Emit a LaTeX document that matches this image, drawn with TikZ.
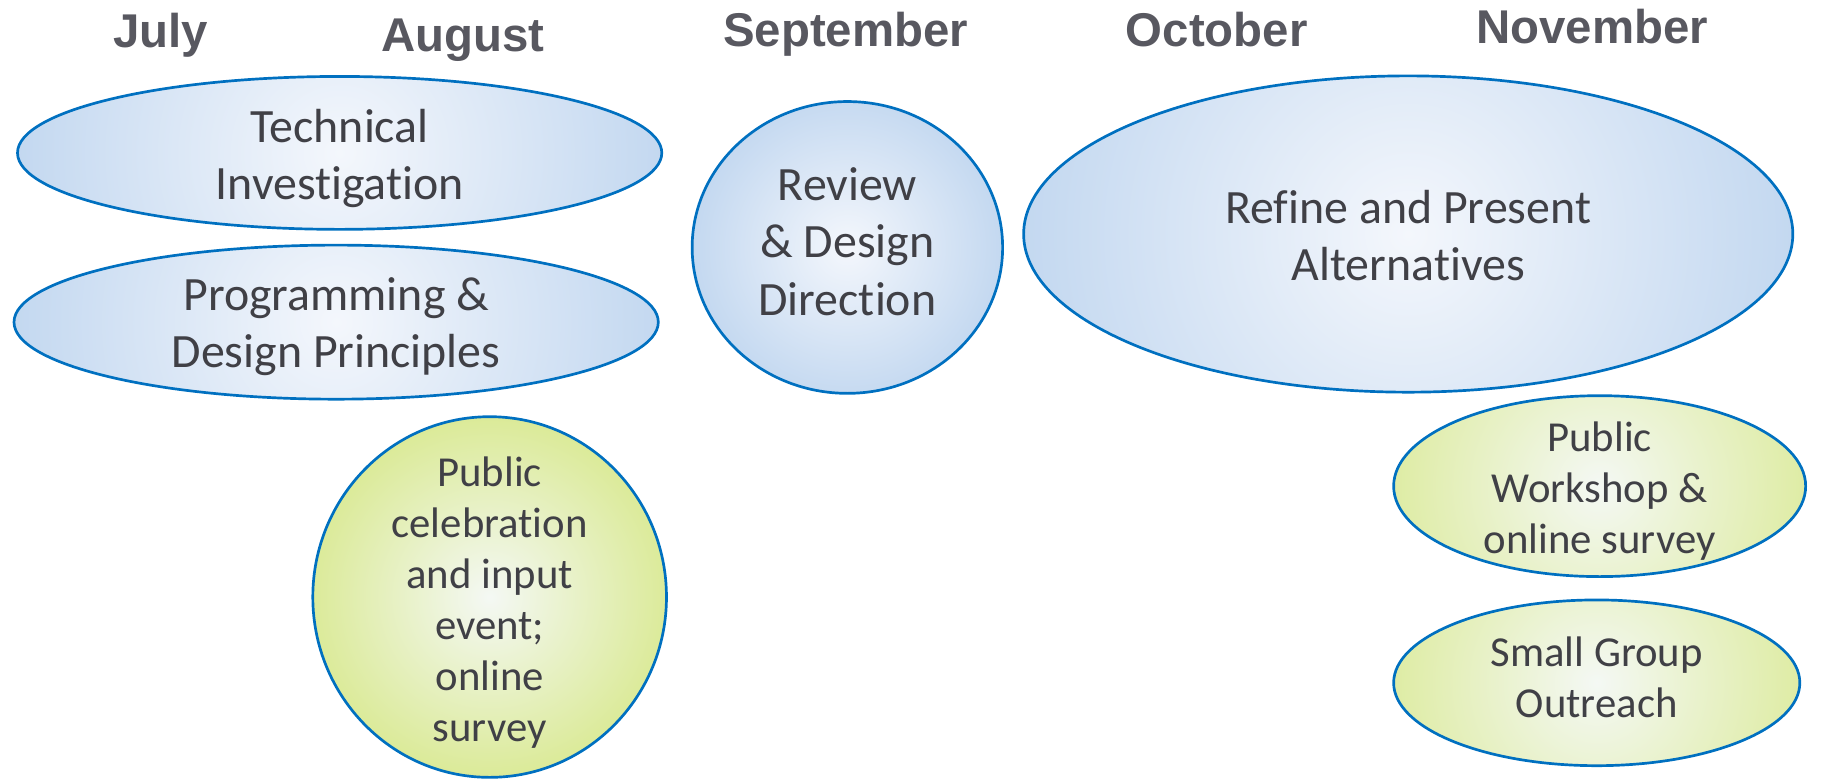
\documentclass[tikz,border=0pt]{standalone}
\usepackage{fontspec}
\setmainfont{Carlito}[RawFeature={-liga}]
\newfontfamily\monthfont{Liberation Sans}
\usetikzlibrary{shapes.geometric}
\definecolor{txtc}{RGB}{64,64,70}
\definecolor{monc}{RGB}{88,88,96}
\definecolor{edgec}{RGB}{0,112,192}
\definecolor{bluein}{RGB}{244,247,252}
\definecolor{blueout}{RGB}{170,200,234}
\definecolor{greenin}{RGB}{244,248,244}
\definecolor{greenout}{RGB}{206,227,104}
\definecolor{greentail}{RGB}{178,204,196}
\pgfdeclareradialshading{blueball}{\pgfpoint{0bp}{0bp}}{color(0bp)=(bluein); color(38bp)=(blueout); color(50bp)=(blueout)}
\pgfdeclareradialshading{greenball}{\pgfpoint{0bp}{0bp}}{color(0bp)=(greenin); color(38bp)=(greenout); color(50bp)=(greenout)}
\pgfdeclareradialshading{greentailball}{\pgfpoint{0bp}{0bp}}{color(0bp)=(greenin); color(44bp)=(greenout); color(50bp)=(greentail)}
\tikzset{
  bub/.style n args={3}{ellipse, draw=edgec, line width=2.3pt, minimum width=#1, minimum height=#2,
    inner sep=0pt,
    path picture={\shade[shading=#3] (path picture bounding box.center) circle[radius={max(#1,#2)/2}];}},
  bluetxt/.style={align=center, text=txtc, inner sep=0pt, font=\fontsize{41}{49}\selectfont},
  greentxt/.style={align=center, text=txtc, inner sep=0pt, font=\fontsize{36.6}{43.7}\selectfont},
  month/.style={anchor=base, text=monc, inner sep=0pt, font=\monthfont\bfseries\fontsize{40.6}{48}\selectfont}
}
\begin{document}
\begin{tikzpicture}[x=1pt,y=-1pt]
\useasboundingbox (0,0) rectangle (1567,668.4);
% months
\node[month] (jul) at (137.5,41) {July};
\node[month] (aug) at (396.5,44) {August};
\node[month] (sep) at (724.5,40) {September};
\node[month] (oct) at (1042.5,40) {October};
\node[month] (nov) at (1364,37) {November};
% blue bubbles
\node[bub={552pt}{131pt}{blueball}] (tech) at (291,131) {};
\node[bluetxt, yshift=-5] (tech-t) at (tech.center) {Technical\\Investigation};
\node[bub={552pt}{132pt}{blueball}] (prog) at (288,276) {};
\node[bluetxt, yshift=-4] (prog-t) at (prog.center) {Programming \&\\Design Principles};
\node[bub={266pt}{250pt}{blueball}] (rev) at (726,212) {};
\node[bluetxt, yshift=5] (rev-t) at (rev.center) {Review\\\& Design\\Direction};
\node[bub={659pt}{271pt}{blueball}] (ref) at (1206.5,200.5) {};
\node[bluetxt, yshift=-1] (ref-t) at (ref.center) {Refine and Present\\Alternatives};
% green bubbles
\node[bub={303pt}{309pt}{greenball}] (cel) at (419.5,511.5) {};
\node[greentxt, yshift=-5] (cel-t) at (cel.center) {Public\\celebration\\and input\\event;\\online\\survey};
\node[bub={353pt}{155pt}{greentailball}] (work) at (1370.5,416.5) {};
\node[greentxt, yshift=-4] (work-t) at (work.center) {Public\\Workshop \&\\online survey};
\node[bub={348pt}{142pt}{greentailball}] (small) at (1368,585) {};
\node[greentxt, yshift=5] (small-t) at (small.center) {Small Group\\Outreach};
\end{tikzpicture}
\end{document}
